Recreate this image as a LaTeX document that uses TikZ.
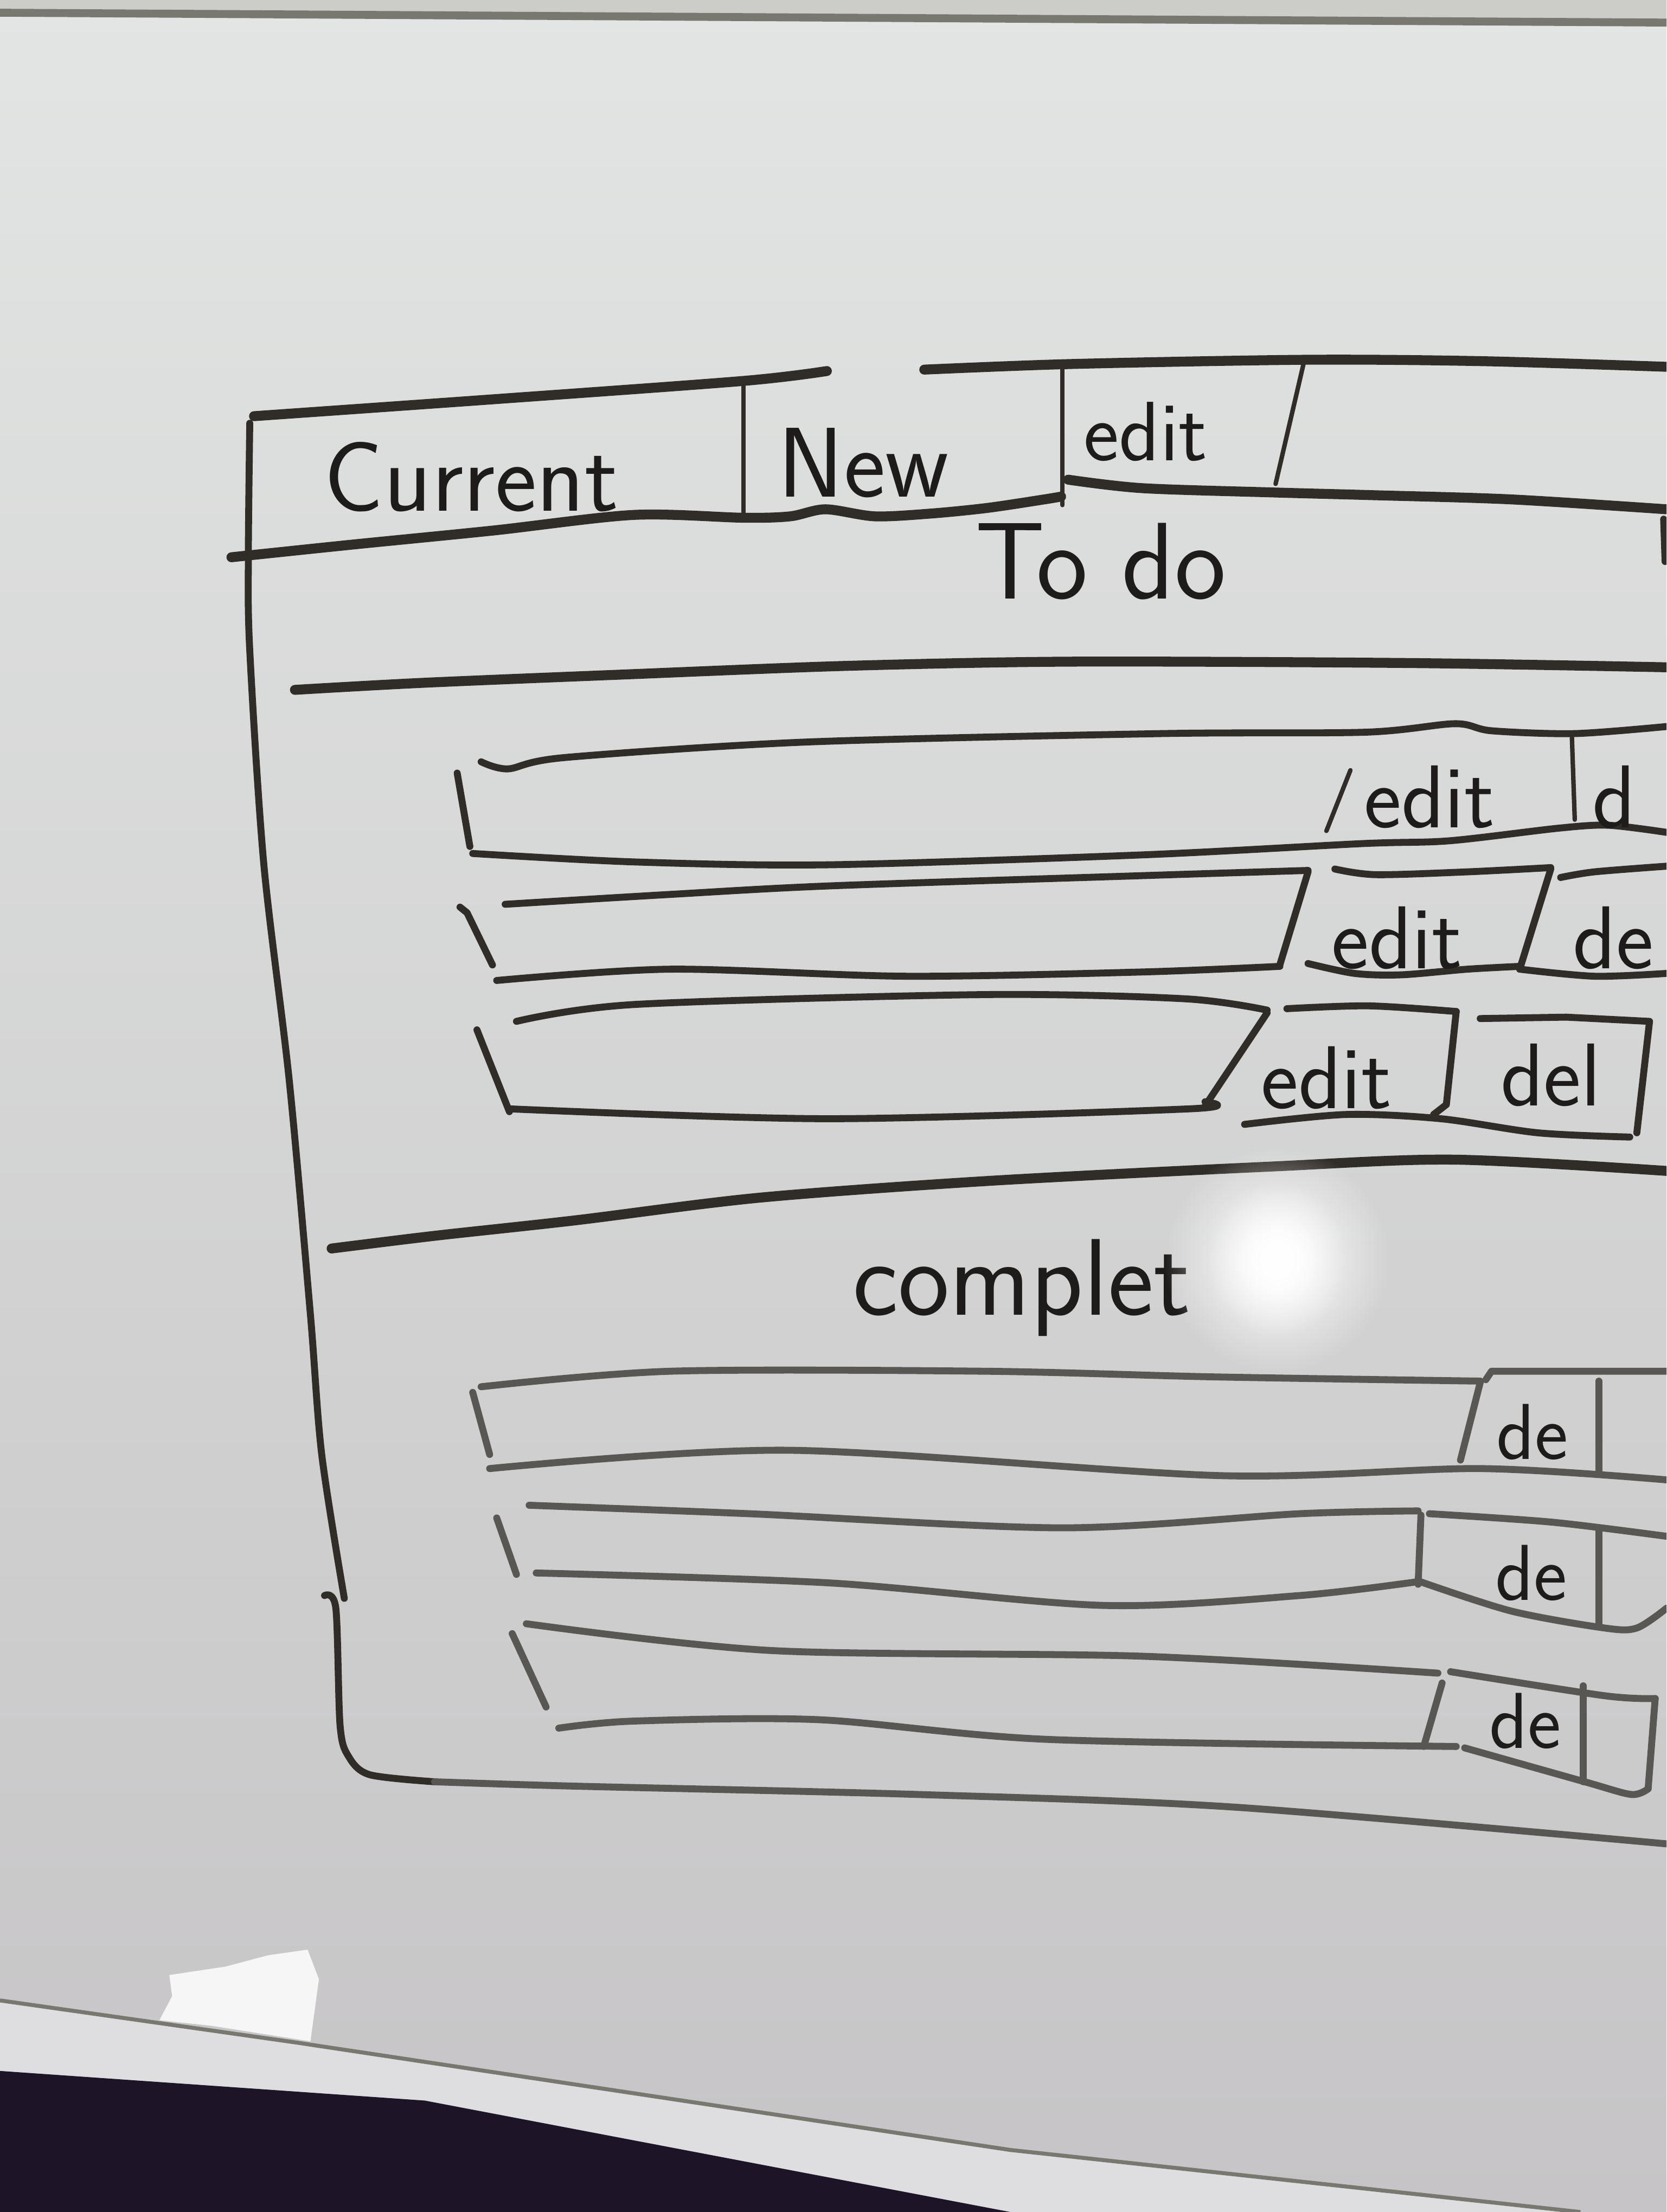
\documentclass[tikz,border=0pt]{standalone}
\usepackage{xcolor}
\usepackage{tikz}
\usetikzlibrary{fadings}

\definecolor{boardTop}{RGB}{226,229,227}
\definecolor{boardMid}{RGB}{214,211,214}
\definecolor{boardBot}{RGB}{198,196,198}
\definecolor{boardEdge}{RGB}{204,205,200}
\definecolor{edgeLine}{RGB}{120,120,112}
\definecolor{trayStrip}{RGB}{222,222,225}
\definecolor{floorDark}{RGB}{30,20,40}
\definecolor{inkDark}{RGB}{48,44,40}
\definecolor{inkGray}{RGB}{88,87,83}
\definecolor{inkText}{RGB}{30,28,26}

\tikzfading[name=glare fade, inner color=transparent!0, outer color=transparent!100]

\begin{document}
\begin{tikzpicture}[x=0.1mm, y=-0.1mm,
  ink/.style={draw=inkDark, line width=1.4pt, line cap=round, line join=round},
  thinink/.style={ink, line width=0.9pt},
  thickink/.style={ink, line width=2pt},
  grayink/.style={ink, draw=inkGray},
  hand/.style={font=\sffamily\fontsize{20}{24}\selectfont, text=inkText, inner sep=0pt},
  btn/.style={hand, font=\sffamily\fontsize{18}{21}\selectfont},
  btnsmall/.style={hand, font=\sffamily\fontsize{16}{19}\selectfont}
]
\useasboundingbox (0,0) rectangle (1181,1568);
\clip (0,0) rectangle (1181,1568);

% whiteboard
\shade[top color=boardTop, middle color=boardMid, bottom color=boardBot] (0,0) rectangle (1181,1568);
\fill[boardEdge] (0,0) -- (1181,0) -- (1181,16) -- (0,9) -- cycle;
\draw[line width=1.6pt, draw=edgeLine] (0,9) -- (1181,16);
\fill[trayStrip] (0,1418) -- (211,1448) -- (716,1524) -- (1120,1568) -- (716,1568) -- (301,1489) -- (0,1468) -- cycle;
\draw[line width=0.8pt, draw=edgeLine] (0,1418) -- (211,1448) -- (716,1524) -- (1120,1568);
\fill[floorDark] (0,1468) -- (301,1489) -- (716,1568) -- (0,1568) -- cycle;
\fill[white, opacity=0.85] (218,1382) -- (226,1403) -- (220,1447) -- (150,1436) -- (113,1432) -- (122,1415) -- (120,1400) -- (160,1394) -- (190,1386) -- cycle;

% outer frame
\draw[ink] plot[smooth] coordinates {(177,300) (176,395) (177,461) (187,613) (205,766) (220,932) (228,1031) (244,1133)};
\draw[ink] plot[smooth] coordinates {(230,1131) (238,1140) (241,1223) (247,1245) (262,1258) (308,1263)};
\draw[grayink] plot[smooth] coordinates {(308,1263) (403,1266) (650,1272) (875,1281) (1181,1307)};

% tabs
\draw[thickink] plot[smooth] coordinates {(180,295) (350,283) (527,270) (586,263)};
\draw[thickink] plot[smooth] coordinates {(164,395) (250,386) (350,376) (449,365) (527,367) (560,366) (585,361) (620,366) (660,364) (700,360) (740,354) (752,352)};
\draw[thinink] (527,270) -- (527,368);
\draw[thinink] (753,261) -- (753,358);
\draw[thickink] plot[smooth] coordinates {(655,262) (760,258) (927,255) (1050,256) (1181,260)};
\draw[thinink] (924,257) -- (904,343);
\draw[thickink] plot[smooth] coordinates {(757,340) (809,346) (900,349) (973,351) (1071,354) (1181,361)};
\draw[ink] (1179,368) -- (1180,398);

\node[hand] (tabCurrent) at (334,338) {Current};
\node[hand] (tabNew) at (612,328) {New};
\node[hand, font=\sffamily\fontsize{17}{20}\selectfont] (tabEdit) at (812,306) {edit};
\node[hand, font=\sffamily\fontsize{22}{26}\selectfont] (titleTodo) at (780,398) {To do};

\draw[thickink] plot[smooth] coordinates {(209,489) (300,484) (445,478) (600,472) (760,469) (1000,470) (1181,473)};

% to do rows
\draw[ink] (324,548) -- (333,600);
\draw[ink] plot[smooth] coordinates {(341,540) (360,545) (400,537) (571,526) (823,520) (968,519) (1031,513) (1057,518) (1116,520) (1181,515)};
\draw[ink] plot[smooth] coordinates {(335,605) (450,611) (587,613) (809,606) (965,598) (1027,596) (1105,587) (1140,585) (1181,590)};
\draw[thinink] (940,589) -- (957,546);
\draw[thinink] (1114,523) -- (1116,581);
\node[btn] (editA) at (1013,565) {edit};
\node[btn, anchor=west] (delA) at (1128,565) {d};

\draw[ink] (326,643) -- (331,647) -- (349,684);
\draw[ink] plot[smooth] coordinates {(358,641) (475,634) (587,628) (800,621) (927,617)};
\draw[ink] (927,618) -- (907,684);
\draw[ink] plot[smooth] coordinates {(352,695) (475,687) (642,692) (809,689) (907,685)};
\draw[ink] plot[smooth] coordinates {(946,616) (975,620) (1040,618) (1099,615)};
\draw[ink] plot[smooth] coordinates {(927,683) (960,690) (993,691) (1040,687) (1077,685)};
\draw[ink] (1099,616) -- (1077,687);
\draw[ink] plot[smooth] coordinates {(1106,622) (1130,618) (1181,614)};
\draw[ink] plot[smooth] coordinates {(1077,687) (1130,692) (1181,690)};
\node[btn] (editB) at (990,665) {edit};
\node[btn, anchor=west] (delB) at (1114,665) {de};

\draw[ink] (338,730) -- (361,788);
\draw[ink] plot[smooth] coordinates {(366,724) (450,712) (698,705) (840,708) (898,716)};
\draw[ink] (898,718) -- (854,784);
\draw[ink] plot[smooth] coordinates {(361,786) (587,793) (843,786) (854,781)};
\draw[ink] plot[smooth] coordinates {(912,715) (970,713) (1032,717)};
\draw[ink] (1032,717) -- (1025,783) -- (1016,790);
\draw[ink] plot[smooth] coordinates {(882,797) (954,790) (1021,793) (1090,803) (1155,806)};
\draw[ink] (1049,722) -- (1110,721) -- (1169,724) -- (1160,803);
\node[btn] (editC) at (940,764) {edit};
\node[btn] (delC) at (1099,762) {del};

\draw[thickink] plot[smooth] coordinates {(235,885) (308,876) (408,865) (538,849) (702,837) (899,827) (1030,822) (1181,830)};

% completed rows
\node[hand, font=\sffamily\fontsize{22}{26}\selectfont, anchor=base] (titleDone) at (724,932) {complet};
\fill[white, path fading=glare fade] (905,893) ellipse [x radius=8mm, y radius=8mm];
\fill[white, path fading=glare fade] (905,893) ellipse [x radius=5mm, y radius=5.5mm];
\fill[white, path fading=glare fade] (905,893) ellipse [x radius=3mm, y radius=3.5mm];

\draw[grayink] (335,987) -- (347,1031);
\draw[grayink] plot[smooth] coordinates {(341,983) (475,972) (698,972) (860,976) (1049,979)};
\draw[grayink] plot[smooth] coordinates {(347,1041) (558,1028) (865,1046) (1049,1041) (1181,1049)};
\draw[grayink] (1049,980) -- (1035,1035);
\draw[grayink] (1053,978) -- (1057,972) -- (1181,972);
\draw[grayink] (1133,979) -- (1133,1045);
\node[btnsmall] (delD) at (1086,1015) {de};

\draw[grayink] (352,1076) -- (366,1116);
\draw[grayink] plot[smooth] coordinates {(375,1067) (531,1073) (753,1083) (921,1073) (1005,1071)};
\draw[grayink] plot[smooth] coordinates {(380,1115) (587,1122) (782,1138) (921,1131) (1006,1121)};
\draw[grayink] (1007,1074) -- (1005,1123);
\draw[grayink] plot[smooth] coordinates {(1013,1073) (1100,1079) (1181,1089)};
\draw[grayink] (1133,1084) -- (1133,1152);
\draw[grayink] plot[smooth] coordinates {(1006,1121) (1071,1142) (1137,1154) (1160,1154) (1181,1140)};
\node[btnsmall] (delE) at (1085,1115) {de};

\draw[grayink] (363,1158) -- (387,1210);
\draw[grayink] plot[smooth] coordinates {(373,1151) (547,1170) (809,1174) (1019,1186)};
\draw[grayink] plot[smooth] coordinates {(396,1225) (449,1220) (580,1219) (743,1233) (1032,1238)};
\draw[grayink] (1022,1193) -- (1009,1238);
\draw[grayink] plot[smooth] coordinates {(1028,1185) (1137,1202) (1173,1204)};
\draw[grayink] (1173,1204) -- (1168,1268);
\draw[grayink] (1122,1195) -- (1122,1263);
\draw[grayink] plot[smooth] coordinates {(1038,1239) (1123,1263) (1156,1272) (1168,1268)};
\node[btnsmall] (delF) at (1081,1220) {de};
\end{tikzpicture}
\end{document}
